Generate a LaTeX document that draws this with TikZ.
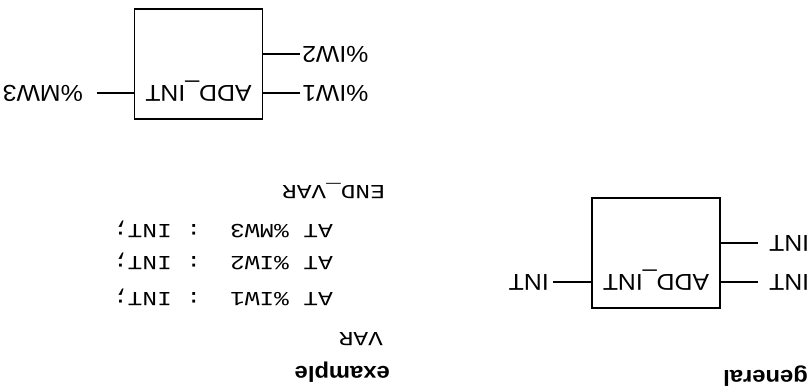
\documentclass[tikz,border=0pt]{standalone}
\usepackage{fontspec}
\newfontfamily\lblfont[FakeStretch=1.08]{Liberation Sans}
\newfontfamily\codefont[FakeStretch=1.22]{Liberation Mono}
\usetikzlibrary{positioning}

\begin{document}
\begin{tikzpicture}[
  x=1pt, y=1pt,
  fb/.style={draw, line width=1.9pt, minimum width=128pt,
             minimum height=110pt, inner sep=0pt},
  fbname/.style={font=\lblfont\fontsize{23}{27}\selectfont,
                 inner sep=0pt, anchor=base},
  pin/.style={line width=1.5pt},
  pinlbl/.style={font=\lblfont\fontsize{23}{27}\selectfont, inner sep=0pt},
  head/.style={font=\lblfont\bfseries\fontsize{22}{26}\selectfont,
               inner sep=0pt, anchor=base west},
  code/.style={font=\codefont\fontsize{20}{24}\selectfont,
               inner sep=0pt, anchor=base west}
]
\useasboundingbox (0,0) rectangle (812,-388);

% the scanned sheet lies upside down
\begin{scope}[shift={(812,-388)}, rotate=180, transform shape]

% --- general form ---
\node[head] (hgen) at (4,-17.5) {general};
\node[fb] (gbox) at (156,-135) {};
\node[fbname] (gname) at (156,-114) {ADD\_INT};

\coordinate (gi1) at (54,-106);
\coordinate (gi2) at (54,-145);
\coordinate (go1) at (259,-106);
\node[pinlbl, left=11pt of gi1] (gi1l) {INT};
\node[pinlbl, left=11pt of gi2] (gi2l) {INT};
\node[pinlbl, right=4pt of go1] (go1l) {INT};
\draw[pin] (gi1) -- (gi1 -| gbox.west);
\draw[pin] (gi2) -- (gi2 -| gbox.west);
\draw[pin] (gbox.east |- go1) -- (go1);

% --- example ---
\node[head] (hex) at (422,-22) {example};
\node[code] (var) at (429,-56) {VAR};
\node[code] (r1) at (479,-96) {AT~\%IW1~~:~INT;};
\node[code] (r2) at (479,-132) {AT~\%IW2~~:~INT;};
\node[code] (r3) at (479,-164) {AT~\%MW3~~:~INT;};
\node[code] (endvar) at (427,-203) {END\_VAR};

\node[fb] (ebox) at (613.5,-324) {};
\node[fbname] (ename) at (613.5,-303) {ADD\_INT};

\coordinate (ei1) at (512,-295);
\coordinate (ei2) at (512,-334);
\coordinate (eo1) at (715,-295);
\node[pinlbl, left=2pt of ei1] (ei1l) {\%IW1};
\node[pinlbl, left=2pt of ei2] (ei2l) {\%IW2};
\node[pinlbl, right=14pt of eo1] (eo1l) {\%MW3};
\draw[pin] (ei1) -- (ei1 -| ebox.west);
\draw[pin] (ei2) -- (ei2 -| ebox.west);
\draw[pin] (ebox.east |- eo1) -- (eo1);

\end{scope}
\end{tikzpicture}
\end{document}
